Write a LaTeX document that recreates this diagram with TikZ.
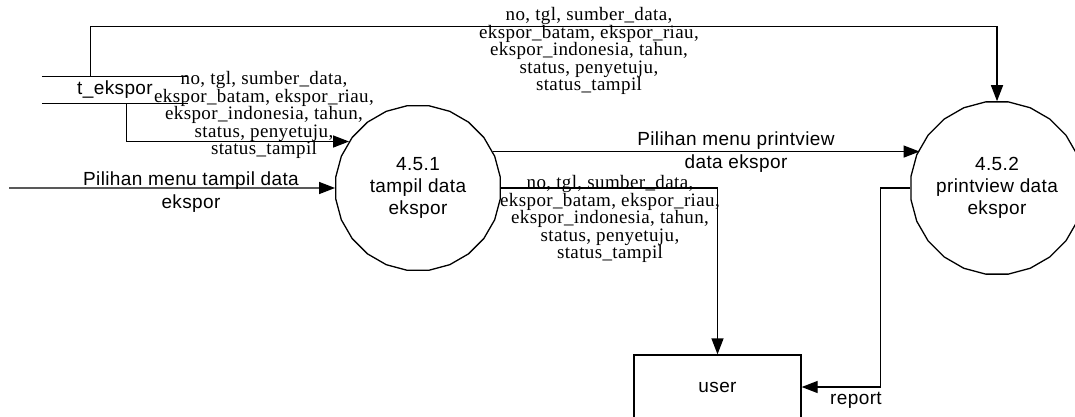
\documentclass[tikz,border=0pt]{standalone}
\usepackage{fontspec}
\usepackage{tikz}
\usetikzlibrary{arrows.meta,shapes.geometric}
\newfontfamily\dfdsans[LetterSpace=2]{Liberation Sans}
\newfontfamily\dfdserif[LetterSpace=2]{Liberation Serif}

\begin{document}
\begin{tikzpicture}[x=1pt,y=-1pt,
    proc/.style={regular polygon, regular polygon sides=24, minimum size=166pt,
        draw, line width=1.3pt, inner sep=0pt, align=center,
        font=\dfdsans\fontsize{19}{22}\selectfont},
    entity/.style={draw, line width=1.3pt, minimum width=167pt, minimum height=64pt,
        font=\dfdsans\fontsize{19}{22}\selectfont},
    flow/.style={line width=1.3pt, -{Triangle[length=16pt,width=12pt]}},
    data/.style={align=center, inner sep=0pt,
        font=\dfdserif\fontsize{19}{17.5}\selectfont},
    menu/.style={align=center, inner sep=0pt,
        font=\dfdsans\fontsize{19}{22.5}\selectfont}]
    \useasboundingbox (0,0) rectangle (1075,416);
    \clip (0,0) rectangle (1075,416);

    \node[proc] (proc1) at (418,188) {4.5.1\\tampil data\\ekspor};
    \node[proc] (proc2) at (997,188) {4.5.2\\printview data\\ekspor};
    \node[entity] (user) at (717.5,387) {user};
    \node[minimum width=146pt, minimum height=26pt, inner sep=0pt,
        font=\dfdsans\fontsize{19}{22}\selectfont] (store) at (115,90) {t\_ekspor};
    \draw[line width=1.3pt] (store.north west) -- (store.north east)
        (store.south west) -- (store.south east);
    \coordinate (src) at (9,188);

    % data flows
    \draw[flow] ([xshift=49pt]store.north west) -- ++(0,-50) -| (proc2.north);
    \draw[flow] ([xshift=85pt]store.south west) |- (proc1.146);
    \draw[flow] (src) -- (proc1.west);
    \draw[flow] (proc1.26.5) -- (proc1.26.5 -| proc2.153.5);
    \draw[flow] (proc1.east) -| (user.north);
    \draw[flow] (proc2.west) -- ++(-30,0) |- (user.east);

    % labels
    \node[data] (d1) at (589,51) {no, tgl, sumber\_data,\\ekspor\_batam, ekspor\_riau,\\
        ekspor\_indonesia, tahun,\\status, penyetuju,\\status\_tampil};
    \node[data] (d2) at (264,115) {no, tgl, sumber\_data,\\ekspor\_batam, ekspor\_riau,\\
        ekspor\_indonesia, tahun,\\status, penyetuju,\\status\_tampil};
    \node[data] (d3) at (610,219) {no, tgl, sumber\_data,\\ekspor\_batam, ekspor\_riau,\\
        ekspor\_indonesia, tahun,\\status, penyetuju,\\status\_tampil};
    \node[menu] (m1) at (191,192) {Pilihan menu tampil data\\ekspor};
    \node[menu] (m2) at (736,152) {Pilihan menu printview\\data ekspor};
    \node[menu] (rep) at (856,400) {report};

\end{tikzpicture}
\end{document}
